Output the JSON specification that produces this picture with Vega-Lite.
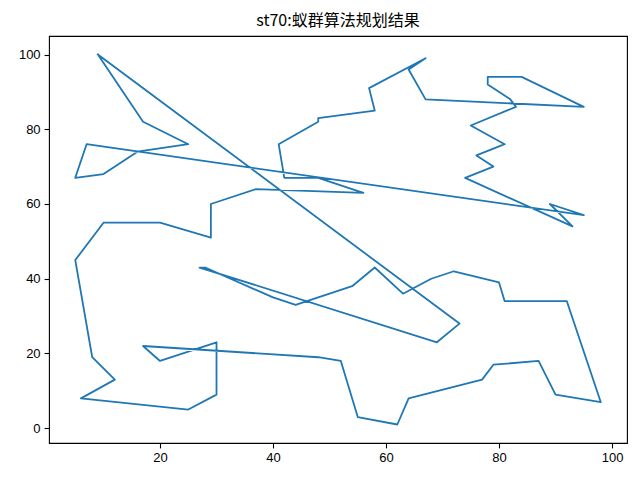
{
  "$schema": "https://vega.github.io/schema/vega-lite/v6.json",
  "autosize": {"type": "none"},
  "width": 578,
  "height": 407,
  "padding": {"left": 49, "top": 36, "right": 13, "bottom": 37},
  "background": "white",
  "title": {
    "text": "st70:蚁群算法规划结果",
    "font": "Noto Sans CJK SC",
    "fontSize": 16,
    "fontWeight": "normal",
    "color": "black",
    "anchor": "middle",
    "offset": 7
  },
  "config": {
    "view": {"stroke": "black", "strokeWidth": 1.1},
    "axis": {
      "grid": false,
      "domain": false,
      "tickColor": "black",
      "tickSize": 4.9,
      "tickWidth": 1.1,
      "labelColor": "black",
      "labelFont": "Liberation Sans",
      "labelFontSize": 13,
      "labelPadding": 4,
      "title": null
    }
  },
  "data": {
    "values": [
      {"i": 1, "x": 9, "y": 100},
      {"i": 2, "x": 73, "y": 28},
      {"i": 3, "x": 69, "y": 23},
      {"i": 4, "x": 27, "y": 43},
      {"i": 5, "x": 28, "y": 43},
      {"i": 6, "x": 40, "y": 35},
      {"i": 7, "x": 44, "y": 33},
      {"i": 8, "x": 54, "y": 38},
      {"i": 9, "x": 58, "y": 43},
      {"i": 10, "x": 63, "y": 36},
      {"i": 11, "x": 68, "y": 40},
      {"i": 12, "x": 72, "y": 42},
      {"i": 13, "x": 80, "y": 39},
      {"i": 14, "x": 81, "y": 34},
      {"i": 15, "x": 92, "y": 34},
      {"i": 16, "x": 98, "y": 7},
      {"i": 17, "x": 90, "y": 9},
      {"i": 18, "x": 87, "y": 18},
      {"i": 19, "x": 79, "y": 17},
      {"i": 20, "x": 77, "y": 13},
      {"i": 21, "x": 64, "y": 8},
      {"i": 22, "x": 62, "y": 1},
      {"i": 23, "x": 55, "y": 3},
      {"i": 24, "x": 52, "y": 18},
      {"i": 25, "x": 48, "y": 19},
      {"i": 26, "x": 17, "y": 22},
      {"i": 27, "x": 20, "y": 18},
      {"i": 28, "x": 30, "y": 23},
      {"i": 29, "x": 30, "y": 9},
      {"i": 30, "x": 25, "y": 5},
      {"i": 31, "x": 6, "y": 8},
      {"i": 32, "x": 12, "y": 13},
      {"i": 33, "x": 8, "y": 19},
      {"i": 34, "x": 5, "y": 45},
      {"i": 35, "x": 10, "y": 55},
      {"i": 36, "x": 20, "y": 55},
      {"i": 37, "x": 29, "y": 51},
      {"i": 38, "x": 29, "y": 60},
      {"i": 39, "x": 37, "y": 64},
      {"i": 40, "x": 56, "y": 63},
      {"i": 41, "x": 48, "y": 67},
      {"i": 42, "x": 42, "y": 67},
      {"i": 43, "x": 41, "y": 76},
      {"i": 44, "x": 48, "y": 82},
      {"i": 45, "x": 48, "y": 83},
      {"i": 46, "x": 58, "y": 85},
      {"i": 47, "x": 57, "y": 91},
      {"i": 48, "x": 67, "y": 99},
      {"i": 49, "x": 64, "y": 96},
      {"i": 50, "x": 67, "y": 88},
      {"i": 51, "x": 95, "y": 86},
      {"i": 52, "x": 84, "y": 94},
      {"i": 53, "x": 78, "y": 94},
      {"i": 54, "x": 78, "y": 92},
      {"i": 55, "x": 82, "y": 88},
      {"i": 56, "x": 83, "y": 86},
      {"i": 57, "x": 75, "y": 81},
      {"i": 58, "x": 81, "y": 76},
      {"i": 59, "x": 76, "y": 73},
      {"i": 60, "x": 79, "y": 70},
      {"i": 61, "x": 74, "y": 67},
      {"i": 62, "x": 93, "y": 54},
      {"i": 63, "x": 89, "y": 60},
      {"i": 64, "x": 95, "y": 57},
      {"i": 65, "x": 7, "y": 76},
      {"i": 66, "x": 5, "y": 67},
      {"i": 67, "x": 10, "y": 68},
      {"i": 68, "x": 16, "y": 74},
      {"i": 69, "x": 25, "y": 76},
      {"i": 70, "x": 17, "y": 82},
      {"i": 71, "x": 9, "y": 100}
    ]
  },
  "mark": {"type": "line", "color": "#1f77b4", "strokeWidth": 1.8, "strokeJoin": "round", "strokeCap": "square", "clip": true},
  "encoding": {
    "x": {
      "field": "x",
      "type": "quantitative",
      "scale": {"domain": [0.35, 102.65], "nice": false, "zero": false},
      "axis": {"values": [20, 40, 60, 80, 100]}
    },
    "y": {
      "field": "y",
      "type": "quantitative",
      "scale": {"domain": [-3.95, 104.95], "nice": false, "zero": false},
      "axis": {"values": [0, 20, 40, 60, 80, 100]}
    },
    "order": {"field": "i", "type": "quantitative"}
  }
}
